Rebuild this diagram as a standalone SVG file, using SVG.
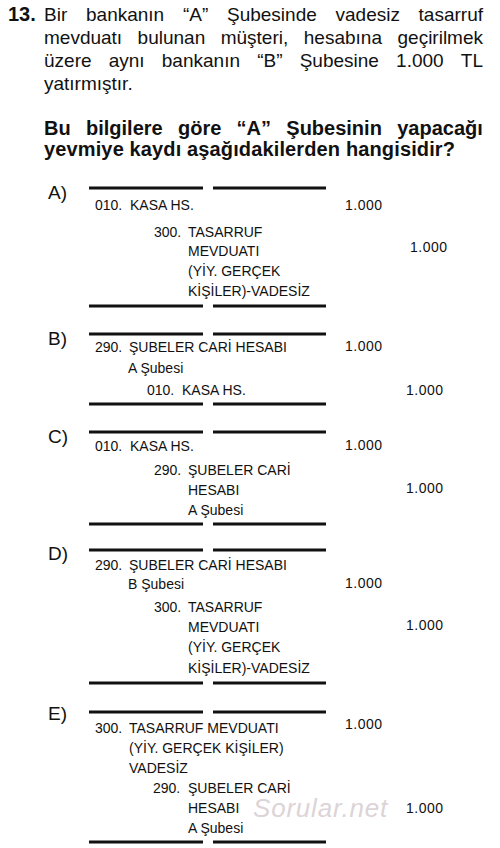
<svg xmlns="http://www.w3.org/2000/svg" width="500" height="848" viewBox="0 0 500 848">
<style>
text{font-family:"Liberation Sans",Arial,sans-serif;fill:#111}
.q{font-size:19px}
.qb{font-size:20px;font-weight:bold}
.lbl{font-size:19px}
.acc{font-size:14px}
.amt{font-size:14px;letter-spacing:0.5px}
.rule{stroke:#111;stroke-width:3;fill:none}
.wm{font-size:26px;font-style:italic;fill:#dcd4d6;letter-spacing:0.8px}
</style>
<rect width="500" height="848" fill="#fff"/>
<g id="question">
<text class="qb" x="8" y="21">13.</text>
<text class="q" y="21"><tspan x="44">Bir</tspan><tspan x="86">bankanın</tspan><tspan x="183">“A”</tspan><tspan x="227">Şubesinde</tspan><tspan x="335.5">vadesiz</tspan><tspan x="418.6">tasarruf</tspan></text>
<text class="q" y="44"><tspan x="44">mevduatı</tspan><tspan x="137.6">bulunan</tspan><tspan x="220.7">müşteri,</tspan><tspan x="303.8">hesabına</tspan><tspan x="397.5">geçirilmek</tspan></text>
<text class="q" y="67"><tspan x="44">üzere</tspan><tspan x="108.7">aynı</tspan><tspan x="161.8">bankanın</tspan><tspan x="257.2">“B”</tspan><tspan x="299.7">Şubesine</tspan><tspan x="396.1">1.000</tspan><tspan x="460.8">TL</tspan></text>
<text class="q" x="44" y="90">yatırmıştır.</text>
<text class="qb" y="135"><tspan x="44">Bu</tspan><tspan x="86">bilgilere</tspan><tspan x="178">göre</tspan><tspan x="236.6">“A”</tspan><tspan x="286.3">Şubesinin</tspan><tspan x="397.2">yapacağı</tspan></text>
<text class="qb" x="44" y="156" textLength="411">yevmiye kaydı aşağıdakilerden hangisidir?</text>
</g>
<g id="option-a">
<text class="lbl" x="48" y="199">A)</text>
<path class="rule" d="M89 188H203M213 188H326M89 306H203M213 306H326"/>
<text class="acc" x="95" y="210">010.</text><text class="acc" x="130" y="210">KASA HS.</text>
<text class="amt" x="345" y="210">1.000</text>
<text class="acc" x="154" y="237">300.</text><text class="acc" x="188" y="237">TASARRUF</text>
<text class="acc" x="188" y="256">MEVDUATI</text>
<text class="acc" x="188" y="276">(YİY. GERÇEK</text>
<text class="acc" x="188" y="296">KİŞİLER)-VADESİZ</text>
<text class="amt" x="410" y="252">1.000</text>
</g>
<g id="option-b">
<text class="lbl" x="48" y="345">B)</text>
<path class="rule" d="M89 334H203M213 334H326M89 404H203M213 404H326"/>
<text class="acc" x="95" y="352">290.</text><text class="acc" x="129" y="352">ŞUBELER CARİ  HESABI</text>
<text class="amt" x="345" y="351">1.000</text>
<text class="acc" x="128" y="373">A Şubesi</text>
<text class="acc" x="147" y="395">010.</text><text class="acc" x="182" y="395">KASA HS.</text>
<text class="amt" x="406" y="395">1.000</text>
</g>
<g id="option-c">
<text class="lbl" x="48" y="443">C)</text>
<path class="rule" d="M89 432H203M213 432H326M89 524H203M213 524H326"/>
<text class="acc" x="95" y="451">010.</text><text class="acc" x="130" y="451">KASA HS.</text>
<text class="amt" x="345" y="450">1.000</text>
<text class="acc" x="154" y="475">290.</text><text class="acc" x="188" y="475">ŞUBELER CARİ</text>
<text class="acc" x="188" y="495">HESABI</text>
<text class="acc" x="188" y="515">A Şubesi</text>
<text class="amt" x="406" y="493">1.000</text>
</g>
<g id="option-d">
<text class="lbl" x="48" y="560">D)</text>
<path class="rule" d="M89 550H203M213 550H326M89 683H203M213 683H326"/>
<text class="acc" x="95" y="570">290.</text><text class="acc" x="129" y="570">ŞUBELER CARİ  HESABI</text>
<text class="acc" x="128" y="589">B Şubesi</text>
<text class="amt" x="345" y="588">1.000</text>
<text class="acc" x="154" y="612">300.</text><text class="acc" x="188" y="612">TASARRUF</text>
<text class="acc" x="188" y="632">MEVDUATI</text>
<text class="acc" x="188" y="652">(YİY. GERÇEK</text>
<text class="acc" x="188" y="673">KİŞİLER)-VADESİZ</text>
<text class="amt" x="406" y="630">1.000</text>
</g>
<g id="option-e">
<text class="lbl" x="48" y="720">E)</text>
<path class="rule" d="M89 712H203M213 712H326M89 842H203M213 842H326"/>
<text class="acc" x="95" y="733">300.</text><text class="acc" x="129" y="733">TASARRUF MEVDUATI</text>
<text class="amt" x="345" y="729">1.000</text>
<text class="acc" x="129" y="753">(YİY. GERÇEK KİŞİLER)</text>
<text class="acc" x="129" y="773">VADESİZ</text>
<text class="acc" x="153" y="793">290.</text><text class="acc" x="188" y="793">ŞUBELER CARİ</text>
<text class="acc" x="188" y="813">HESABI</text>
<text class="wm" x="253" y="817">Sorular.net</text>
<text class="amt" x="406" y="813">1.000</text>
<text class="acc" x="188" y="833">A Şubesi</text>
</g>
</svg>
